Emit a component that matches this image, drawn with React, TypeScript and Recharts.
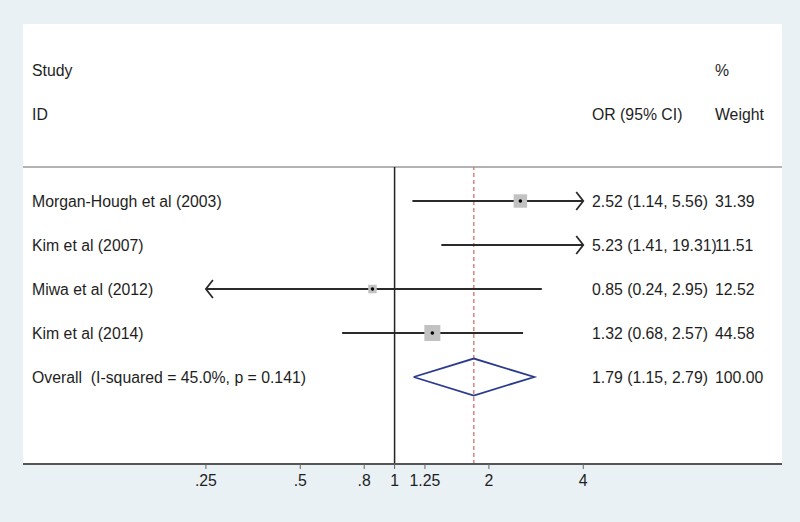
import { ComposedChart, ReferenceLine, Scatter, XAxis, YAxis } from 'recharts';

// forest plot: OR with 95% CI, log x axis
const studyNames = ['Morgan-Hough et al (2003)', 'Kim et al (2007)', 'Miwa et al (2012)', 'Kim et al (2014)'];
const studyOR = [2.52, 5.23, 0.85, 1.32];
const studyLow = [1.14, 1.41, 0.24, 0.68];
const studyHigh = [5.56, 19.31, 2.95, 2.57];
const studyWeight = [31.39, 11.51, 12.52, 44.58];

const overallLabel = 'Overall  (I-squared = 45.0%, p = 0.141)';
const overallOR = 1.79;
const overallLow = 1.15;
const overallHigh = 2.79;
const overallWeight = 100.0;

const xTicks = [0.25, 0.5, 0.8, 1, 1.25, 2, 4];
const xTickLabels = ['.25', '.5', '.8', '1', '1.25', '2', '4'];

// range the CIs are drawn in; beyond it they get arrows
const PLOT_MIN = 0.25;
const PLOT_MAX = 4;

const FONT = '"Liberation Sans", Arial, Helvetica, sans-serif';
const FS = 15.8;
const TXT = '#1e1e1e';

const fmt = (v: number) => v.toFixed(2);

const rows = studyNames.map((name, i) => ({
    x: 1,
    y: i,
    name,
    or: studyOR[i],
    lo: studyLow[i],
    hi: studyHigh[i],
    weight: studyWeight[i],
}));

const labelRows = [
    ...rows,
    { x: 1, y: rows.length, name: overallLabel, or: overallOR, lo: overallLow, hi: overallHigh, weight: overallWeight },
];

const boxes = rows.filter((r) => r.or >= PLOT_MIN && r.or <= PLOT_MAX).map((r) => ({ ...r, x: r.or }));

const oRow = rows.length;
const diamond = [
    { x: overallLow, y: oRow },
    { x: overallOR, y: oRow - 0.42 },
    { x: overallHigh, y: oRow },
    { x: overallOR, y: oRow + 0.42 },
    { x: overallLow, y: oRow },
];

const LabelShape = (p: any) => {
    const r = p.payload;
    const y = p.cy;
    return (
        <g fontFamily={FONT} fontSize={FS} fill={TXT}>
            <text x={32} y={y} dy="0.36em" xmlSpace="preserve">{r.name}</text>
            <text x={592} y={y} dy="0.36em">{`${fmt(r.or)} (${fmt(r.lo)}, ${fmt(r.hi)})`}</text>
            <text x={715} y={y} dy="0.36em">{fmt(r.weight)}</text>
        </g>
    );
};

const BoxShape = (p: any) => {
    const s = Math.sqrt(p.payload.weight) * 2.4;
    return (
        <g>
            <rect x={p.cx - s / 2} y={p.cy - s / 2} width={s} height={s} fill="#c2c2c2" />
            <circle cx={p.cx} cy={p.cy} r={1.8} fill="#000" />
        </g>
    );
};

const NoShape = () => <g />;

const ciShape = (clipLeft: boolean, clipRight: boolean) => (p: any) => {
    const { x1, y1, x2, y2 } = p;
    return (
        <g stroke="#2a2a2a" strokeWidth={1.8} fill="none">
            <line x1={x1} y1={y1} x2={x2} y2={y2} />
            {clipRight && <path d={`M${x2 - 7},${y2 - 9} L${x2},${y2} L${x2 - 7},${y2 + 9}`} />}
            {clipLeft && <path d={`M${x1 + 7},${y1 - 9} L${x1},${y1} L${x1 + 7},${y1 + 9}`} />}
        </g>
    );
};

export default function App() {
    return (
        <div style={{ position: 'absolute', left: 0, top: 0, width: 800, height: 522, background: '#e9f1f5' }}>
            <div style={{ position: 'absolute', left: 23, top: 24, width: 759, height: 440, background: '#fff' }} />
            <div style={{ position: 'absolute', left: 0, top: 0 }}>
                <ComposedChart width={800} height={522} margin={{ top: 167, right: 18, bottom: 8, left: 23 }}>
                    <XAxis
                        type="number"
                        dataKey="x"
                        scale="log"
                        domain={[0.0652, 17.23]}
                        allowDataOverflow
                        ticks={xTicks}
                        tickFormatter={(v: number) => xTickLabels[xTicks.indexOf(v)] ?? String(v)}
                        height={50}
                        tickSize={5}
                        tickMargin={6}
                        axisLine={{ stroke: '#555', strokeWidth: 2 }}
                        tickLine={{ stroke: '#666' }}
                        tick={{ fill: TXT, fontSize: FS, fontFamily: FONT }}
                    />
                    <YAxis type="number" dataKey="y" domain={[-0.773, 5.977]} reversed hide allowDataOverflow />

                    <ReferenceLine y={-0.773} stroke="#9a9a9a" strokeWidth={1.5} />
                    <ReferenceLine x={1} stroke="#222" strokeWidth={1.5} />
                    <ReferenceLine x={overallOR} stroke="#d9706a" strokeWidth={1.3} strokeDasharray="4 3" />

                    {rows.map((r) => {
                        const lo = Math.max(r.lo, PLOT_MIN);
                        const hi = Math.min(r.hi, PLOT_MAX);
                        return (
                            <ReferenceLine
                                key={r.name}
                                segment={[
                                    { x: lo, y: r.y },
                                    { x: hi, y: r.y },
                                ]}
                                shape={ciShape(r.lo < PLOT_MIN, r.hi > PLOT_MAX)}
                            />
                        );
                    })}

                    <Scatter data={boxes} shape={BoxShape} isAnimationActive={false} />
                    <Scatter
                        data={diamond}
                        shape={NoShape}
                        line={{ stroke: '#2b3a8f', strokeWidth: 1.8 }}
                        isAnimationActive={false}
                    />
                    <Scatter data={labelRows} shape={LabelShape} isAnimationActive={false} />

                    <text x={32} y={70} dy="0.36em" fontFamily={FONT} fontSize={FS} fill={TXT}>Study</text>
                    <text x={32} y={114} dy="0.36em" fontFamily={FONT} fontSize={FS} fill={TXT}>ID</text>
                    <text x={715} y={70} dy="0.36em" fontFamily={FONT} fontSize={FS} fill={TXT}>%</text>
                    <text x={592} y={114} dy="0.36em" fontFamily={FONT} fontSize={FS} fill={TXT}>OR (95% CI)</text>
                    <text x={715} y={114} dy="0.36em" fontFamily={FONT} fontSize={FS} fill={TXT}>Weight</text>
                </ComposedChart>
            </div>
        </div>
    );
}
